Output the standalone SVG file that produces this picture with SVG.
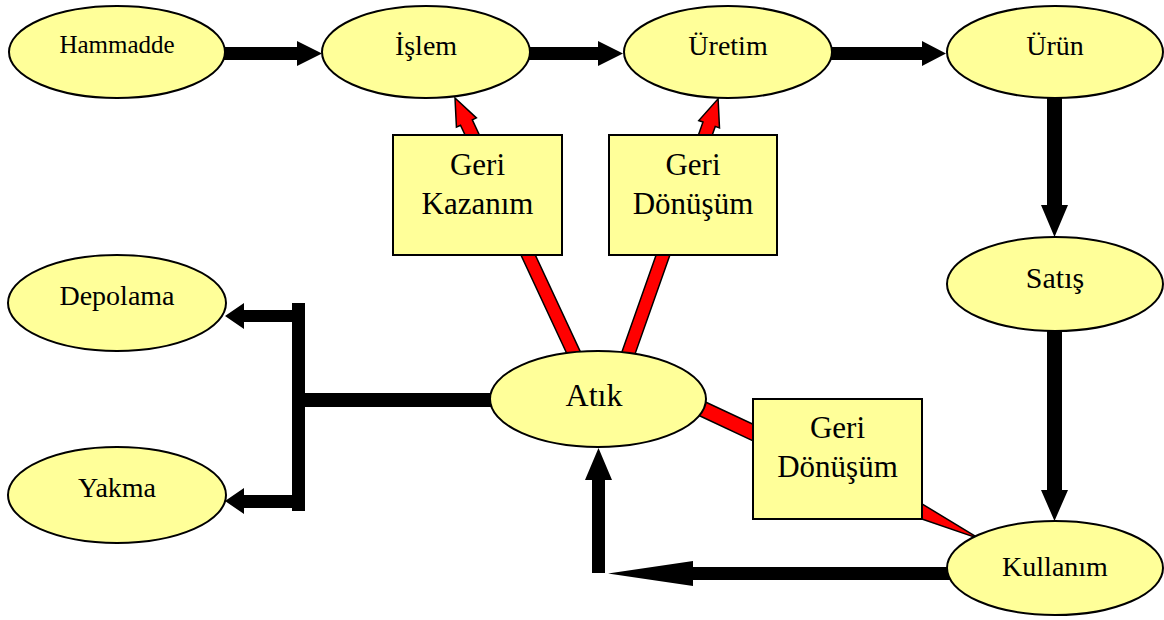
<svg xmlns="http://www.w3.org/2000/svg" width="1164" height="620" viewBox="0 0 1164 620">
<style>
.node ellipse, .node rect { fill: #FFFF99; stroke: #000; stroke-width: 2; }
text { font-family: "Liberation Serif", "Times New Roman", serif; fill: #000; text-anchor: middle; }
.t28 { font-size: 28px; }
.t25 { font-size: 25px; }
.t31 { font-size: 31px; }
.blk { fill: #000; stroke: none; }
.red { fill: #FF0000; stroke: #000; stroke-width: 1.5; stroke-linejoin: miter; }
</style>
<rect width="1164" height="620" fill="#fff"/>
<g id="connectors">
  <!-- red recycling arrows -->
  <path class="red" transform="translate(577,360) rotate(-114.97)" d="M0,-6.5 H262 V-11 L289,0 L262,11 V6.5 H0 Z"/>
  <path class="red" transform="translate(626,360) rotate(-70.58)" d="M0,-6.5 H250 V-11 L277,0 L250,11 V6.5 H0 Z"/>
  <path class="red" transform="translate(690,403) rotate(25.13)" d="M0,-7.5 H250 L320,0 L250,7.5 H0 Z"/>
  <!-- black flow arrows -->
  <path class="blk" d="M220,47 H297 V41 L322,53.5 L297,66 V60 H220 Z"/>
  <path class="blk" d="M525,47 H598 V41 L623,53.5 L598,66 V60 H525 Z"/>
  <path class="blk" d="M828,47 H922 V41 L946,53.5 L922,66 V60 H828 Z"/>
  <path class="blk" d="M1047,95 V205 H1041 L1054.5,237 L1068,205 H1062 V95 Z"/>
  <path class="blk" d="M1047,328 V490 H1041 L1054.5,521 L1068,490 H1062 V328 Z"/>
  <path class="blk" d="M950,567 H693 V561 L608,573.5 L693,586 V580 H950 Z"/>
  <path class="blk" d="M592,573 V480 H585 L598.5,448 L612,480 H605 V573 Z"/>
  <path class="blk" d="M495,393 H305 V303 H292 V310 H244 V303 L225,316 L244,329 V322 H292 V495 H244 V488 L225,501 L244,514 V508 H292 V511 H305 V407 H495 Z"/>
</g>
<g id="hammadde" class="node"><ellipse cx="117" cy="52" rx="108" ry="46"/><text class="t25" x="117" y="53">Hammadde</text></g>
<g id="islem" class="node"><ellipse cx="426" cy="52" rx="104" ry="46"/><text class="t28" x="426" y="55">İşlem</text></g>
<g id="uretim" class="node"><ellipse cx="728" cy="52" rx="104" ry="46"/><text class="t28" x="728" y="55">Üretim</text></g>
<g id="urun" class="node"><ellipse cx="1055" cy="52" rx="108" ry="46"/><text class="t28" x="1055" y="55">Ürün</text></g>
<g id="satis" class="node"><ellipse cx="1055" cy="284" rx="108" ry="47"/><text x="1055" y="288" font-size="30">Satış</text></g>
<g id="kullanim" class="node"><ellipse cx="1055" cy="568" rx="108" ry="47"/><text class="t28" x="1055" y="576">Kullanım</text></g>
<g id="atik" class="node"><ellipse cx="598" cy="399" rx="108" ry="48"/><text x="594" y="406" font-size="32">Atık</text></g>
<g id="depolama" class="node"><ellipse cx="117" cy="303" rx="109" ry="48"/><text class="t28" x="117" y="305">Depolama</text></g>
<g id="yakma" class="node"><ellipse cx="117" cy="495" rx="109" ry="48"/><text class="t28" x="117" y="497">Yakma</text></g>
<g id="geri-kazanim" class="node"><rect x="393" y="135" width="169" height="120"/><text class="t31" x="477.5" y="175">Geri</text><text class="t31" x="477.5" y="214">Kazanım</text></g>
<g id="geri-donusum-1" class="node"><rect x="609" y="135" width="168" height="120"/><text class="t31" x="693" y="175">Geri</text><text class="t31" x="693" y="214">Dönüşüm</text></g>
<g id="geri-donusum-2" class="node"><rect x="753" y="399" width="169" height="120"/><text class="t31" x="837.5" y="438">Geri</text><text class="t31" x="837.5" y="477">Dönüşüm</text></g>
</svg>
